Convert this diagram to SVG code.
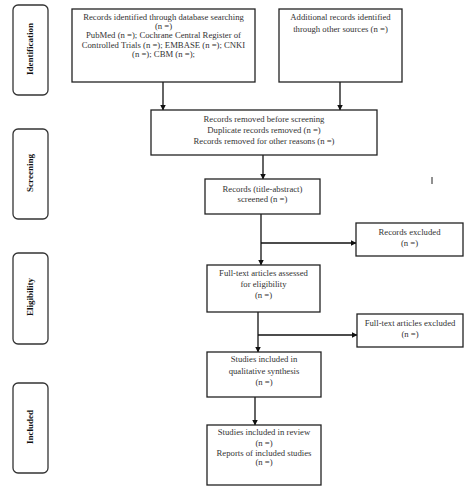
<svg xmlns="http://www.w3.org/2000/svg" width="472" height="493" viewBox="0 0 472 493">
<defs>
<marker id="ah" markerWidth="6" markerHeight="6" refX="5.5" refY="3" orient="auto" markerUnits="userSpaceOnUse">
<path d="M0,0 L6,3 L0,6 Z" fill="#111"/>
</marker>
</defs>
<style>
.box{fill:#fff;stroke:#222;stroke-width:1.3}
.side{fill:#fff;stroke:#333;stroke-width:1.3}
.t{font-family:"Liberation Serif","Times New Roman",serif;font-size:8.7px;fill:#333;text-anchor:middle}
.s{font-family:"Liberation Serif","Times New Roman",serif;font-size:9px;font-weight:bold;fill:#111;text-anchor:middle}
.c{stroke:#111;stroke-width:1.3;fill:none}
</style>
<rect width="472" height="493" fill="#fff"/>
<g id="side-identification"><rect class="side" x="13" y="5" width="35" height="90" rx="5"/><text class="s" transform="translate(33,49) rotate(-90)">Identification</text></g>
<g id="side-screening"><rect class="side" x="13" y="129" width="35" height="90" rx="5"/><text class="s" transform="translate(33,173) rotate(-90)">Screening</text></g>
<g id="side-eligibility"><rect class="side" x="13" y="253" width="35" height="91" rx="5"/><text class="s" transform="translate(33,297) rotate(-90)">Eligibility</text></g>
<g id="side-included"><rect class="side" x="13" y="383" width="35" height="90" rx="5"/><text class="s" transform="translate(33,427) rotate(-90)">Included</text></g>

<g id="connectors">
<line class="c" x1="163" y1="82" x2="163" y2="110" marker-end="url(#ah)"/>
<line class="c" x1="340" y1="82" x2="340" y2="110" marker-end="url(#ah)"/>
<line class="c" x1="263" y1="155" x2="263" y2="179" marker-end="url(#ah)"/>
<line class="c" x1="261" y1="214" x2="261" y2="265" marker-end="url(#ah)"/>
<line class="c" x1="261" y1="243" x2="356" y2="243" marker-end="url(#ah)"/>
<line class="c" x1="258" y1="312" x2="258" y2="352" marker-end="url(#ah)"/>
<line class="c" x1="258" y1="335" x2="357" y2="335" marker-end="url(#ah)"/>
<line class="c" x1="255" y1="397" x2="255" y2="425" marker-end="url(#ah)"/>
</g>

<g id="db-search"><rect class="box" x="72" y="9" width="183" height="73"/>
<text class="t" x="163.5" y="20">Records identified through database searching</text>
<text class="t" x="163.5" y="29">(n =)</text>
<text class="t" x="163.5" y="38">PubMed (n =); Cochrane Central Register of</text>
<text class="t" x="163.5" y="47.5">Controlled Trials (n =); EMBASE (n =); CNKI</text>
<text class="t" x="163.5" y="56.5">(n =); CBM (n =);</text></g>

<g id="other-sources"><rect class="box" x="279" y="9" width="123" height="73"/>
<text class="t" x="340.5" y="20">Additional records identified</text>
<text class="t" x="340.5" y="32">through other sources (n =)</text></g>

<g id="removed"><rect class="box" x="151" y="110" width="226" height="45"/>
<text class="t" x="264" y="122">Records removed before screening</text>
<text class="t" x="264" y="133">Duplicate records removed (n =)</text>
<text class="t" x="264" y="144">Records removed for other reasons (n =)</text></g>

<g id="screened"><rect class="box" x="205" y="179" width="115" height="35"/>
<text class="t" x="262.5" y="192">Records (title-abstract)</text>
<text class="t" x="262.5" y="202">screened (n =)</text></g>

<line x1="432" y1="177" x2="432" y2="184" stroke="#222" stroke-width="1"/>

<g id="records-excluded"><rect class="box" x="356" y="223" width="107" height="33"/>
<text class="t" x="409.5" y="235">Records excluded</text>
<text class="t" x="409.5" y="246">(n =)</text></g>

<g id="fulltext-assessed"><rect class="box" x="207" y="265" width="113" height="47"/>
<text class="t" x="263.5" y="276">Full-text articles assessed</text>
<text class="t" x="263.5" y="287">for eligibility</text>
<text class="t" x="263.5" y="298">(n =)</text></g>

<g id="fulltext-excluded"><rect class="box" x="357" y="314" width="106" height="33"/>
<text class="t" x="410" y="326">Full-text articles excluded</text>
<text class="t" x="410" y="337">(n =)</text></g>

<g id="qualitative"><rect class="box" x="207" y="352" width="114" height="45"/>
<text class="t" x="264" y="362">Studies included in</text>
<text class="t" x="264" y="374">qualitative synthesis</text>
<text class="t" x="264" y="385">(n =)</text></g>

<g id="review"><rect class="box" x="207" y="425" width="114" height="60"/>
<text class="t" x="264" y="435">Studies included in review</text>
<text class="t" x="264" y="446">(n =)</text>
<text class="t" x="264" y="455.5">Reports of included studies</text>
<text class="t" x="264" y="465">(n =)</text></g>
</svg>
